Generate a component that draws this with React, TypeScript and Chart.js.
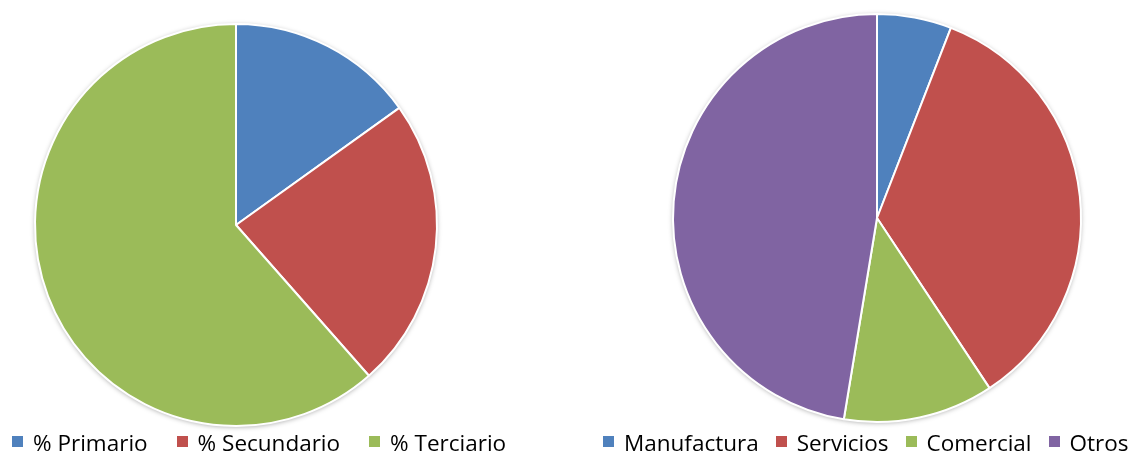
import React, { useEffect, useRef } from "react";
import { Chart, registerables } from "chart.js";

Chart.register(...registerables);

const sectorLabels = ["% Primario", "% Secundario", "% Terciario"];
const sectorValues = [15.1, 23.4, 61.5];
const sectorColors = ["#4F81BD", "#C0504D", "#9BBB59"];

const activityLabels = ["Manufactura", "Servicios", "Comercial", "Otros"];
const activityValues = [5.9, 34.8, 11.9, 47.4];
const activityColors = ["#4F81BD", "#C0504D", "#9BBB59", "#8064A2"];

const FONT = "'Open Sans', sans-serif";

const shadowPlugin = {
  id: "pieShadow",
  beforeDatasetsDraw(chart: any) {
    const meta = chart.getDatasetMeta(0);
    const arc = meta.data[0];
    if (!arc) return;
    const { x, y, outerRadius } = arc.getProps(["x", "y", "outerRadius"], true);
    const ctx = chart.ctx;
    ctx.save();
    ctx.shadowColor = "rgba(0,0,0,0.35)";
    ctx.shadowBlur = 5;
    ctx.shadowOffsetX = 0;
    ctx.shadowOffsetY = 1;
    ctx.beginPath();
    ctx.arc(x, y, outerRadius, 0, Math.PI * 2);
    ctx.fillStyle = "#ffffff";
    ctx.fill();
    ctx.restore();
  },
};

function Pie(props: {
  labels: string[];
  values: number[];
  colors: string[];
  radius: number;
  style: React.CSSProperties;
}) {
  const ref = useRef<HTMLCanvasElement | null>(null);
  useEffect(() => {
    if (!ref.current) return;
    const chart = new Chart(ref.current, {
      type: "pie",
      data: {
        labels: props.labels,
        datasets: [
          {
            data: props.values,
            backgroundColor: props.colors,
            borderColor: "#ffffff",
            borderWidth: 2,
          },
        ],
      },
      options: {
        responsive: false,
        animation: false,
        radius: props.radius,
        layout: { padding: 0 },
        plugins: {
          legend: { display: false },
          tooltip: { enabled: false },
        },
      } as any,
      plugins: [shadowPlugin],
    });
    return () => chart.destroy();
  }, []);
  return (
    <canvas
      ref={ref}
      width={430}
      height={430}
      style={{ position: "absolute", width: 430, height: 430, ...props.style }}
    />
  );
}

function Legend(props: {
  labels: string[];
  colors: string[];
  left: number;
  gap: number;
}) {
  return (
    <div
      style={{
        position: "absolute",
        left: props.left,
        top: 430,
        height: 25,
        display: "flex",
        alignItems: "flex-start",
        fontFamily: FONT,
        fontSize: 22.5,
        lineHeight: "25px",
        color: "#000",
        whiteSpace: "nowrap",
      }}
    >
      {props.labels.map((l, i) => (
        <div
          key={l}
          style={{
            display: "flex",
            alignItems: "flex-start",
            marginRight: i < props.labels.length - 1 ? props.gap : 0,
          }}
        >
          <span
            style={{
              display: "inline-block",
              width: 11,
              height: 11,
              marginTop: 6,
              marginRight: 10,
              background: props.colors[i],
            }}
          />
          <span>{l}</span>
        </div>
      ))}
    </div>
  );
}

export default function App() {
  return (
    <div
      style={{
        position: "absolute",
        left: 0,
        top: 0,
        width: 1131,
        height: 455,
        background: "#fff",
        overflow: "hidden",
      }}
    >
      <Pie
        labels={sectorLabels}
        values={sectorValues}
        colors={sectorColors}
        radius={201}
        style={{ left: 21, top: 10 }}
      />
      <Pie
        labels={activityLabels}
        values={activityValues}
        colors={activityColors}
        radius={204}
        style={{ left: 662, top: 3 }}
      />
      <Legend labels={sectorLabels} colors={sectorColors} left={12} gap={29} />
      <Legend labels={activityLabels} colors={activityColors} left={603} gap={17} />
    </div>
  );
}
